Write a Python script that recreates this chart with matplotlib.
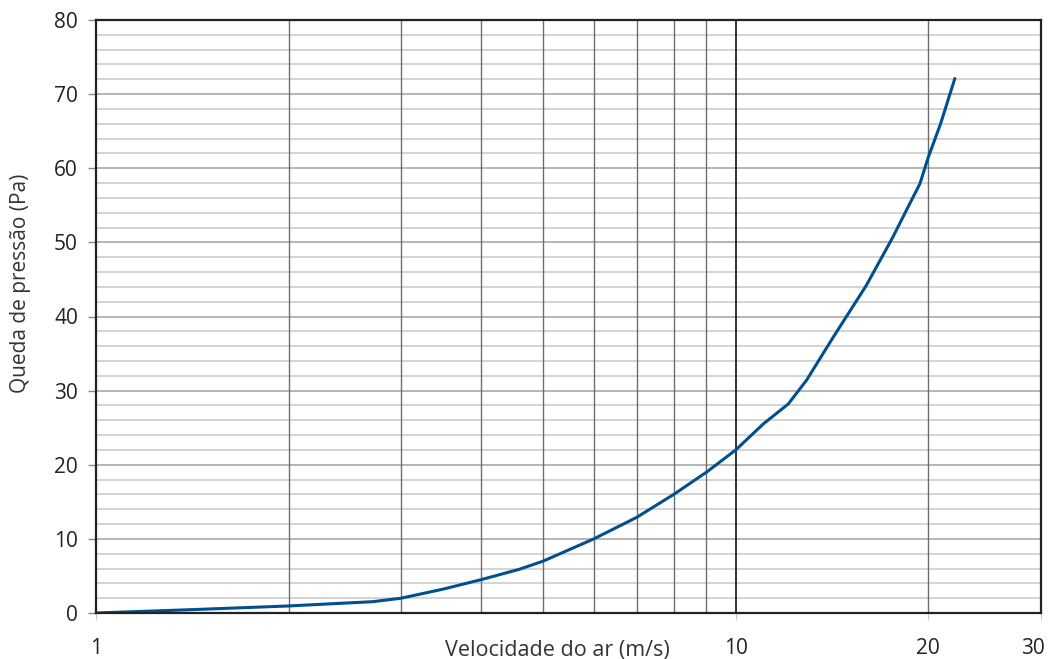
import numpy as np
import matplotlib.pyplot as plt
import matplotlib.transforms as mtransforms
from matplotlib.ticker import FixedLocator, NullFormatter

plt.rcParams['font.family'] = ['Open Sans', 'DejaVu Sans']

# air speed (m/s) and pressure drop (Pa)
velocity = [1, 1.42, 2, 2.71, 3, 3.48, 4, 4.59, 5, 6, 7, 8, 9, 10,
            11.04, 12.08, 12.9, 14.2, 16, 17.6, 18.7, 19.4, 20, 20.9, 22]
pressure = [0, 0.46, 0.95, 1.53, 2.0, 3.2, 4.5, 5.9, 7.0, 10.0, 12.9, 16.0,
            19.0, 22.0, 25.5, 28.2, 31.4, 37.2, 44.2, 50.7, 55.2, 57.9,
            61.5, 66.0, 72.1]

x_ticks = [1, 10, 20, 30]
x_grid = [2, 3, 4, 5, 6, 7, 8, 9, 20]
y_ticks = list(range(0, 81, 10))
y_minor = [v for v in range(0, 81, 2) if v % 10 != 0]

fig = plt.figure(figsize=(10.5, 6.59), dpi=100)
ax = fig.add_axes([96/1050, 46/659, 945/1050, 593/659])

ax.set_xscale('log')
ax.set_xlim(1, 30)
ax.set_ylim(0, 80)

# horizontal grid
for v in y_minor:
    ax.axhline(v, color='#d4d4d4', lw=1.4, zorder=1)
for v in y_ticks[1:-1]:
    ax.axhline(v, color='#a8a8a8', lw=1.2, zorder=1)
# vertical grid
for v in x_grid:
    ax.axvline(v, color='#6e6e6e', lw=1.0, zorder=2)
ax.axvline(10, color='#111111', lw=1.2, zorder=2)

ax.plot(velocity, pressure, color='#00508f', lw=2.2, zorder=3,
        solid_capstyle='round', solid_joinstyle='round')

ax.xaxis.set_major_locator(FixedLocator(x_ticks))
ax.xaxis.set_minor_locator(FixedLocator([]))
ax.xaxis.set_minor_formatter(NullFormatter())
ax.set_xticklabels([str(v) for v in x_ticks])
ax.set_yticks(y_ticks)

ax.tick_params(axis='x', length=5, color='#cccccc', pad=13,
               labelsize=15, labelcolor='#222222')
ax.tick_params(axis='y', length=6, color='#888888', width=1, pad=7,
               labelsize=15, labelcolor='#222222')

# last label sits inside the figure edge
last = ax.get_xticklabels()[-1]
last.set_ha('right')
last.set_transform(last.get_transform() +
                   mtransforms.ScaledTranslation(4/100, 0, fig.dpi_scale_trans))

for s in ax.spines.values():
    s.set_color('#222222')
    s.set_linewidth(1.6)
    s.set_zorder(4)

ax.set_xlabel('Velocidade do ar (m/s)', fontsize=15.5, color='#333333')
ax.xaxis.label.set_va('center')
ax.xaxis.set_label_coords(0.488, -0.063)
ax.set_ylabel('Queda de pressão (Pa)', fontsize=15, color='#333333')
ax.yaxis.label.set_va('center')
ax.yaxis.set_label_coords(-0.080, 0.556)

fig.savefig('out.png', dpi=100)
